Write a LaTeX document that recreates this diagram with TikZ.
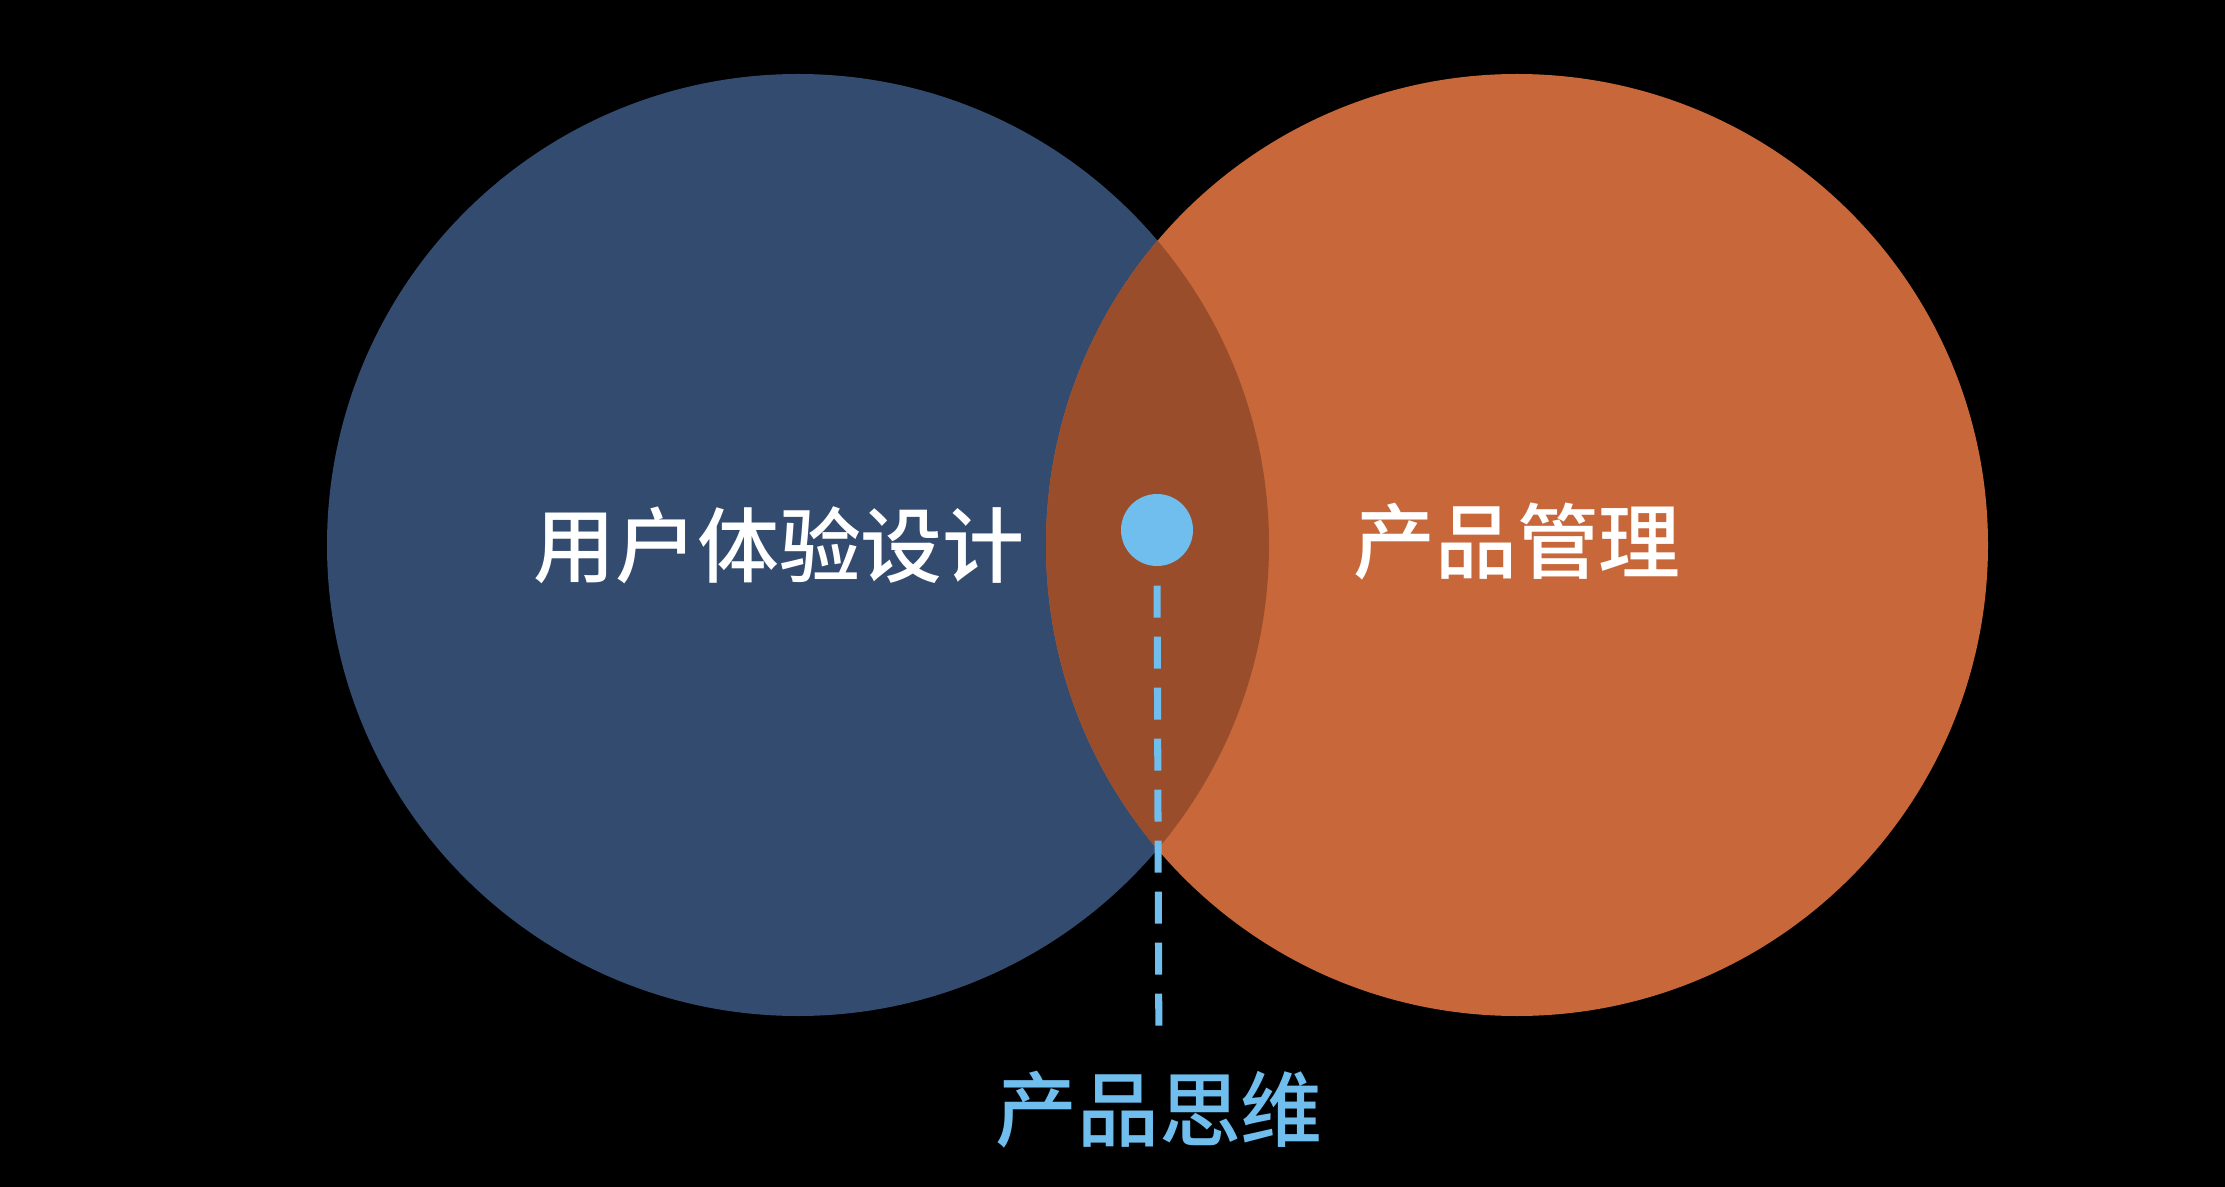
\documentclass[tikz,border=0pt]{standalone}
\usepackage{fontspec}
\newfontfamily\cjk[BoldFont={Noto Sans CJK SC Medium}]{Noto Sans CJK SC}
\usetikzlibrary{positioning}

\definecolor{uxblue}{RGB}{52,75,112}
\definecolor{pmorange}{RGB}{200,104,58}
\definecolor{lensbrown}{RGB}{153,77,43}
\definecolor{skyblue}{RGB}{112,190,238}

\tikzset{
	bigcircle/.style={circle, minimum size=9.42cm, inner sep=0pt},
	bigtext/.style={text=white, font=\cjk\bfseries\fontsize{23.3}{28}\selectfont, inner sep=0pt},
	linkdash/.style={skyblue, line width=2pt, dash pattern=on 0.32cm off 0.19cm}
}

\begin{document}
\begin{tikzpicture}
		% background
		\fill[black] (0,0) rectangle (22.25,-11.87);
		\useasboundingbox (0,0) rectangle (22.25,-11.87);
		
		% circles
		\node[bigcircle, fill=uxblue] (ux) at (7.98,-5.45) {};
		\node[bigcircle, fill=pmorange] (pm) at (15.17,-5.45) {};
		
		% overlap
		\begin{scope}
			\clip (ux.center) circle (4.71);
			\fill[lensbrown] (pm.center) circle (4.71);
		\end{scope}
		
		% labels
		\node[bigtext] (uxlabel) at (7.79,-5.45) {用户体验设计};
		\node[bigtext] (pmlabel) at (15.17,-5.42) {产品管理};
		
		\node[circle, fill=skyblue, minimum size=0.72cm, inner sep=0pt] (dot) at (11.57,-5.30) {};
		\node[bigtext, text=skyblue] (think) at (11.59,-11.10) {产品思维};
		
		\draw[linkdash, shorten <=0.19cm, shorten >=0.40cm] (dot.south) -- (think.north);
		
	\end{tikzpicture}
\end{document}
